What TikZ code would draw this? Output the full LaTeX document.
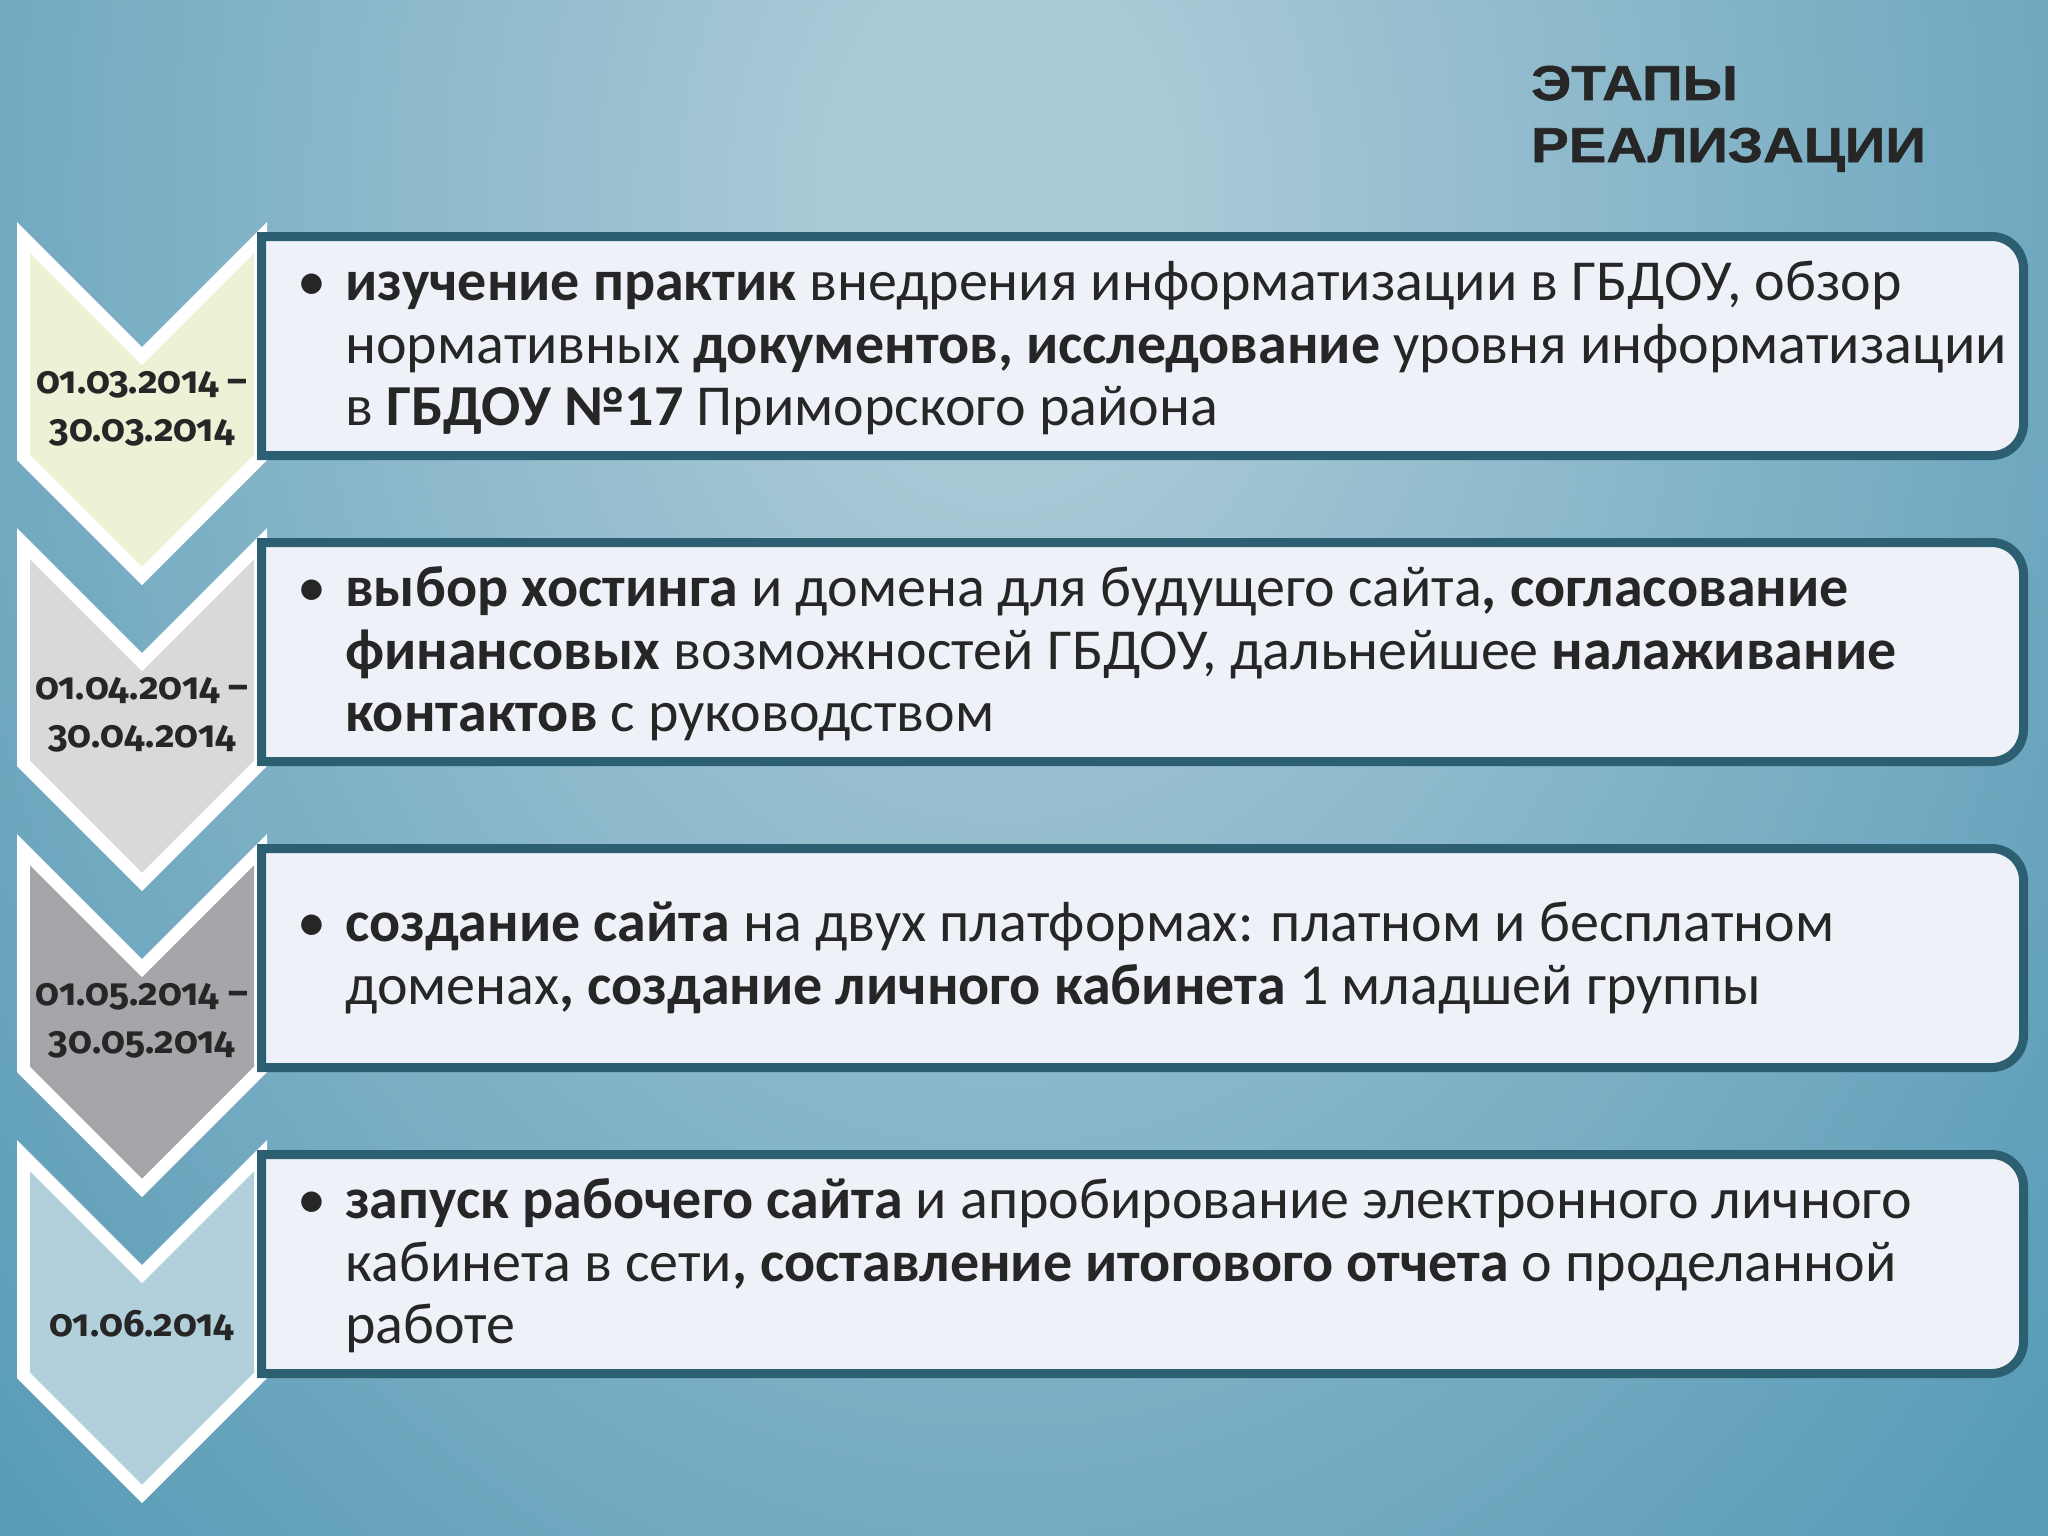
\documentclass[tikz,border=0pt]{standalone}
\usepackage{fontspec}
\setmainfont{Carlito}
\newfontfamily\datefont[Numbers=OldStyle]{Fira Sans}
\newfontfamily\titlefont[FakeStretch=1.15,FakeBold=1.2]{Liberation Sans}
\definecolor{bglight}{HTML}{A9C9D6}
\definecolor{bgdark}{HTML}{5A9CB7}
\definecolor{chevA}{HTML}{EFF1D7}
\definecolor{chevB}{HTML}{D9D9DA}
\definecolor{chevC}{HTML}{A6A5A9}
\definecolor{chevD}{HTML}{B2D0DB}
\definecolor{boxfill}{HTML}{EEF2F8}
\definecolor{boxborder}{HTML}{2D5F73}
\definecolor{textdark}{HTML}{262626}
\pgfdeclareradialshading{bgrad}{\pgfpoint{0bp}{0bp}}{color(0bp)=(bglight); color(4bp)=(bglight); color(31bp)=(bgdark); color(100bp)=(bgdark)}
\tikzset{
  bodytext/.style={anchor=base west, inner sep=0pt, text=textdark, font=\fontsize{58}{63}\selectfont},
  bulletmark/.style={anchor=base, inner sep=0pt, text=textdark, font=\fontsize{58}{63}\selectfont},
  datetext/.style={anchor=base, inner sep=0pt, text=textdark, font=\datefont\bfseries\fontsize{38}{47}\selectfont},
  titletext/.style={anchor=base west, inner sep=0pt, text=textdark, font=\titlefont\bfseries\fontsize{49}{60}\selectfont},
  stagebox/.style={draw=boxborder, line width=9pt, fill=boxfill},
  chevouter/.style={fill=white},
}
\begin{document}
\begin{tikzpicture}[x=1pt,y=-1pt]
\useasboundingbox (0,0) rectangle (2048,1536);
\fill[bgdark] (0,0) rectangle (2048,1536);
\begin{scope}
\clip (0,0) rectangle (2048,1536);
\shade[shading=bgrad] (-100,-1300) rectangle (2100,1700);
\end{scope}

% chevrons
\foreach \k/\col in {0/chevA,1/chevB,2/chevC,3/chevD}{
  \pgfmathsetmacro\dy{306*\k}
  \fill[chevouter] (17,222+\dy) -- (142,347+\dy) -- (267,222+\dy) -- (267,460+\dy) -- (142,585+\dy) -- (17,460+\dy) -- cycle;
  \fill[\col] (30,253.4+\dy) -- (142,365.4+\dy) -- (254,253.4+\dy) -- (254,454.6+\dy) -- (142,566.6+\dy) -- (30,454.6+\dy) -- cycle;
}

% boxes
\foreach \k in {0,1,2,3}{
  \pgfmathsetmacro\dy{306*\k}
  \path[stagebox] (261.5,236.5+\dy) -- (1991.5,236.5+\dy)
     .. controls (2009.2,236.5+\dy) and (2023.5,250.8+\dy) .. (2023.5,268.5+\dy)
     -- (2023.5,423.5+\dy)
     .. controls (2023.5,441.2+\dy) and (2009.2,455.5+\dy) .. (1991.5,455.5+\dy)
     -- (261.5,455.5+\dy) -- cycle;
}

% title
\node[titletext] (title1) at (1531,100) {ЭТАПЫ};
\node[titletext] (title2) at (1531,162) {РЕАЛИЗАЦИИ};

% dates
\node[datetext] (d1a) at (142,393) {01.03.2014 –};
\node[datetext] (d1b) at (142,441) {30.03.2014};
\node[datetext] (d2a) at (142,699) {01.04.2014 –};
\node[datetext] (d2b) at (142,747) {30.04.2014};
\node[datetext] (d3a) at (142,1005) {01.05.2014 –};
\node[datetext] (d3b) at (142,1053) {30.05.2014};
\node[datetext] (d4a) at (142,1336) {01.06.2014};

% box 1
\node[bulletmark] (b1) at (312,300) {•};
\node[bodytext] (t1a) at (345,300) {\textbf{изучение практик} внедрения информатизации в ГБДОУ, обзор};
\node[bodytext] (t1b) at (345,363) {нормативных \textbf{документов, исследование} уровня информатизации};
\node[bodytext] (t1c) at (345,425) {в \textbf{ГБДОУ №17} Приморского района};

% box 2
\node[bulletmark] (b2) at (312,606) {•};
\node[bodytext] (t2a) at (345,606) {\textbf{выбор хостинга} и домена для будущего сайта\textbf{, согласование}};
\node[bodytext] (t2b) at (345,669) {\textbf{финансовых} возможностей ГБДОУ, дальнейшее \textbf{налаживание}};
\node[bodytext] (t2c) at (345,731) {\textbf{контактов} с руководством};

% box 3
\node[bulletmark] (b3) at (312,941) {•};
\node[bodytext] (t3a) at (345,941) {\textbf{создание сайта} на двух платформах: платном и бесплатном};
\node[bodytext] (t3b) at (345,1004) {доменах\textbf{, создание личного кабинета} 1 младшей группы};

% box 4
\node[bulletmark] (b4) at (312,1218) {•};
\node[bodytext] (t4a) at (345,1218) {\textbf{запуск рабочего сайта} и апробирование электронного личного};
\node[bodytext] (t4b) at (345,1281) {кабинета в сети\textbf{, составление итогового отчета} о проделанной};
\node[bodytext] (t4c) at (345,1343) {работе};
\end{tikzpicture}
\end{document}
